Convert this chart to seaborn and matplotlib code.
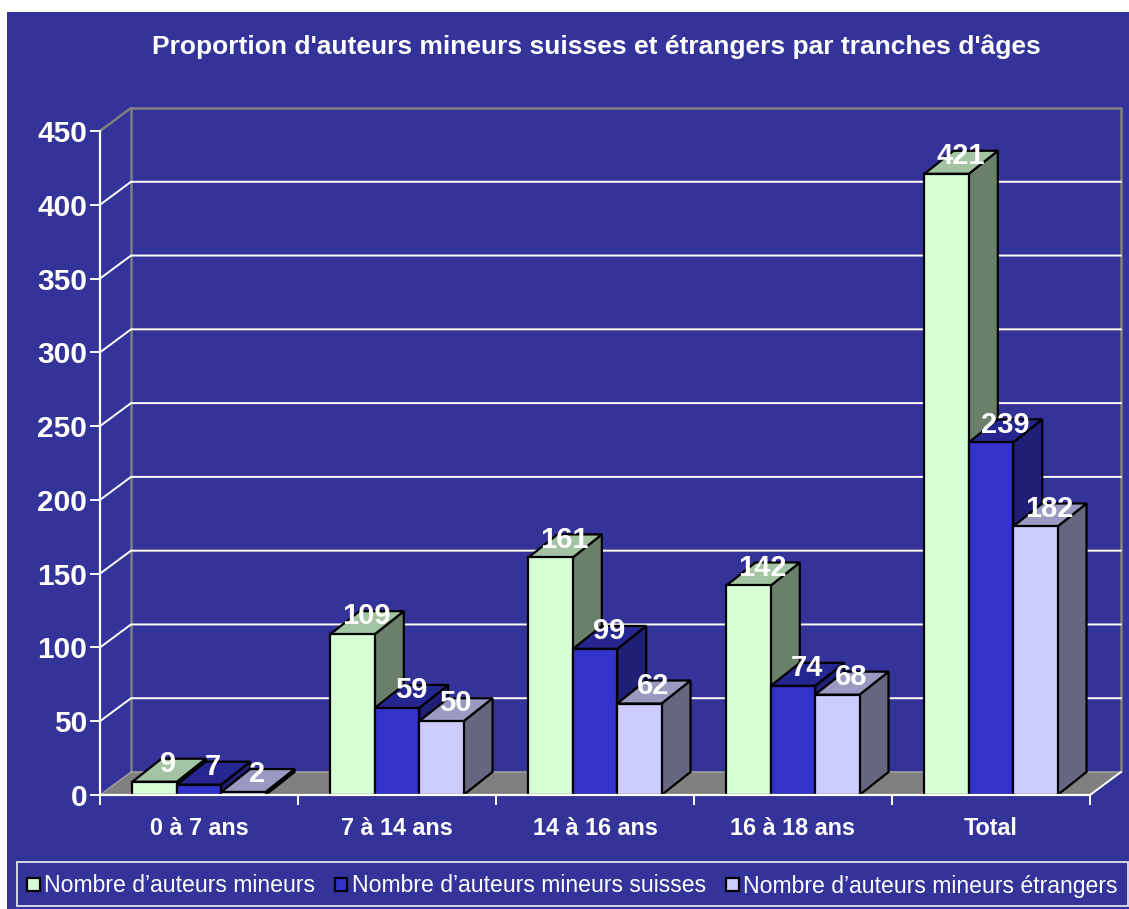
import pandas as pd
import seaborn as sns
import matplotlib.pyplot as plt
from matplotlib.patches import Rectangle, Polygon

categories = ['0 à 7 ans', '7 à 14 ans', '14 à 16 ans', '16 à 18 ans', 'Total']
total_values = [9, 109, 161, 142, 421]
swiss_values = [7, 59, 99, 74, 239]
foreign_values = [2, 50, 62, 68, 182]
series_names = ['Nombre d’auteurs mineurs', 'Nombre d’auteurs mineurs suisses',
                'Nombre d’auteurs mineurs étrangers']
y_ticks = [0, 50, 100, 150, 200, 250, 300, 350, 400, 450]
title = "Proportion d'auteurs mineurs suisses et étrangers par tranches d'âges"

NAVY = '#333399'
front_colors = ['#D6FFD6', '#3333CC', '#CCCCFF']
top_colors = ['#A3C4A3', '#262690', '#9999C2']
side_colors = ['#6A806A', '#1F1F75', '#666680']

W, H = 1129, 909
sns.set_theme(style='white')
plt.rcParams['font.family'] = ['Liberation Sans', 'DejaVu Sans']

df = pd.DataFrame({
    'category': categories * 3,
    'series': [n for n in series_names for _ in categories],
    'value': total_values + swiss_values + foreign_values,
})

fig = plt.figure(figsize=(W / 100, H / 100), dpi=100, facecolor='white')
fig.patches.append(Rectangle((7 / W, 0), 1 - 7 / W, 1 - 12 / H, transform=fig.transFigure,
                             facecolor=NAVY, edgecolor='none', zorder=-10))
ax = fig.add_axes([100 / W, 1 - 795 / H, 990 / W, 664 / H], facecolor='none')

sns.barplot(data=df, x='category', y='value', hue='series', order=categories,
            hue_order=series_names, palette=front_colors, width=0.672, gap=0,
            saturation=1, edgecolor='black', linewidth=1.6, ax=ax)
ax.set_xlim(-0.5, 4.5)
ax.set_ylim(0, 450)

# pixel sizes of the fake 3D depth, turned into data units
px_x = 5 / 990
px_y = 450 / 664
wall_dx, wall_dy = 31 * px_x, 23 * px_y
bar_dx, bar_dy = 29 * px_x, 23 * px_y

# floor and back wall
floor = Polygon([(-0.5, 0), (-0.5 + wall_dx, wall_dy), (4.5 + wall_dx, wall_dy), (4.5, 0)],
                facecolor='#808080', edgecolor='none', clip_on=False, zorder=1)
ax.add_patch(floor)
ax.plot([-0.5 + wall_dx, -0.5 + wall_dx, 4.5 + wall_dx, 4.5 + wall_dx],
        [wall_dy, 450 + wall_dy, 450 + wall_dy, wall_dy],
        color='#808080', lw=1.8, clip_on=False, zorder=1.5)
ax.plot([-0.5, -0.5 + wall_dx], [450, 450 + wall_dy], color='#808080', lw=1.8,
        clip_on=False, zorder=1.5)
ax.plot([-0.5 + wall_dx, 4.5 + wall_dx], [wall_dy, wall_dy], color='#A0A0A0', lw=1.2,
        clip_on=False, zorder=1.6)
for t in y_ticks[1:-1]:
    ax.plot([-0.5, -0.5 + wall_dx, 4.5 + wall_dx], [t, t + wall_dy, t + wall_dy],
            color='white', lw=1.4, clip_on=False, zorder=2)
ax.plot([4.5, 4.5 + wall_dx], [0, wall_dy], color='white', lw=1.4, clip_on=False, zorder=2)
ax.plot([-0.5, -0.5 + wall_dx], [0, wall_dy], color='#A0A0A0', lw=1.0, clip_on=False, zorder=2)

# side and top faces follow the bars seaborn drew, left to right
for s, container in enumerate(ax.containers):
    for bar in container:
        x0, x1, h = bar.get_x(), bar.get_x() + bar.get_width(), bar.get_height()
        z = 5 + x0
        side = Polygon([(x1, 0), (x1 + bar_dx, bar_dy), (x1 + bar_dx, h + bar_dy), (x1, h)],
                       facecolor=side_colors[s], edgecolor='black', lw=1.6, clip_on=False, zorder=z)
        top = Polygon([(x0, h), (x0 + bar_dx, h + bar_dy), (x1 + bar_dx, h + bar_dy), (x1, h)],
                      facecolor=top_colors[s], edgecolor='black', lw=1.6, clip_on=False, zorder=z)
        ax.add_patch(side)
        ax.add_patch(top)
        bar.set_zorder(z + 0.01)
        bar.set_clip_on(False)
        ax.annotate(str(int(h)), (x0 + bar.get_width() / 2, h), xytext=(10, 12.8),
                    textcoords='offset points', ha='center', va='center', color='white',
                    fontsize=21, fontweight='bold', zorder=50, annotation_clip=False)

# axes
for name in ['top', 'right']:
    ax.spines[name].set_visible(False)
for name in ['left', 'bottom']:
    ax.spines[name].set_color('white')
    ax.spines[name].set_linewidth(1.6)
    ax.spines[name].set_zorder(40)
ax.set_xlabel('')
ax.set_ylabel('')
ax.set_yticks(y_ticks)
ax.set_xticks(range(len(categories)))
ax.set_xticklabels(categories)
ax.set_xticks([i - 0.5 for i in range(len(categories) + 1)], minor=True)
ax.tick_params(axis='y', left=True, length=7.2, width=1.4, color='white', labelcolor='white',
               labelsize=21.5, pad=2)
ax.tick_params(axis='x', which='major', bottom=False, labelcolor='white', labelsize=16.8, pad=9.5)
ax.tick_params(axis='x', which='minor', bottom=True, length=7.2, width=1.4, color='white')
for lab in ax.get_xticklabels() + ax.get_yticklabels():
    lab.set_fontweight('bold')

fig.text(596 / W, 1 - 46.5 / H, title, ha='center', va='center', color='white',
         fontsize=19, fontweight='bold')

handles, labels = ax.get_legend_handles_labels()
leg = ax.legend(handles, labels, loc='center', ncols=3, mode='expand',
                bbox_to_anchor=(17 / W, 1 - 906 / H, 1111 / W, 44 / H),
                bbox_transform=fig.transFigure, fontsize=16.6, frameon=True, fancybox=False,
                facecolor='none', edgecolor='white', framealpha=None, labelcolor='white',
                handlelength=0.53, handleheight=0.53, handletextpad=0.2, borderaxespad=0,
                borderpad=0.45, columnspacing=0.3)
leg.get_frame().set_linewidth(1.4)
for h in leg.legend_handles:
    h.set_edgecolor('black')
    h.set_linewidth(1.6)
    h.set_y(h.get_y() - 1.5)
for t in leg.get_texts():
    t.set_y(-2)

plt.savefig('out.png', dpi=100)
plt.close()
